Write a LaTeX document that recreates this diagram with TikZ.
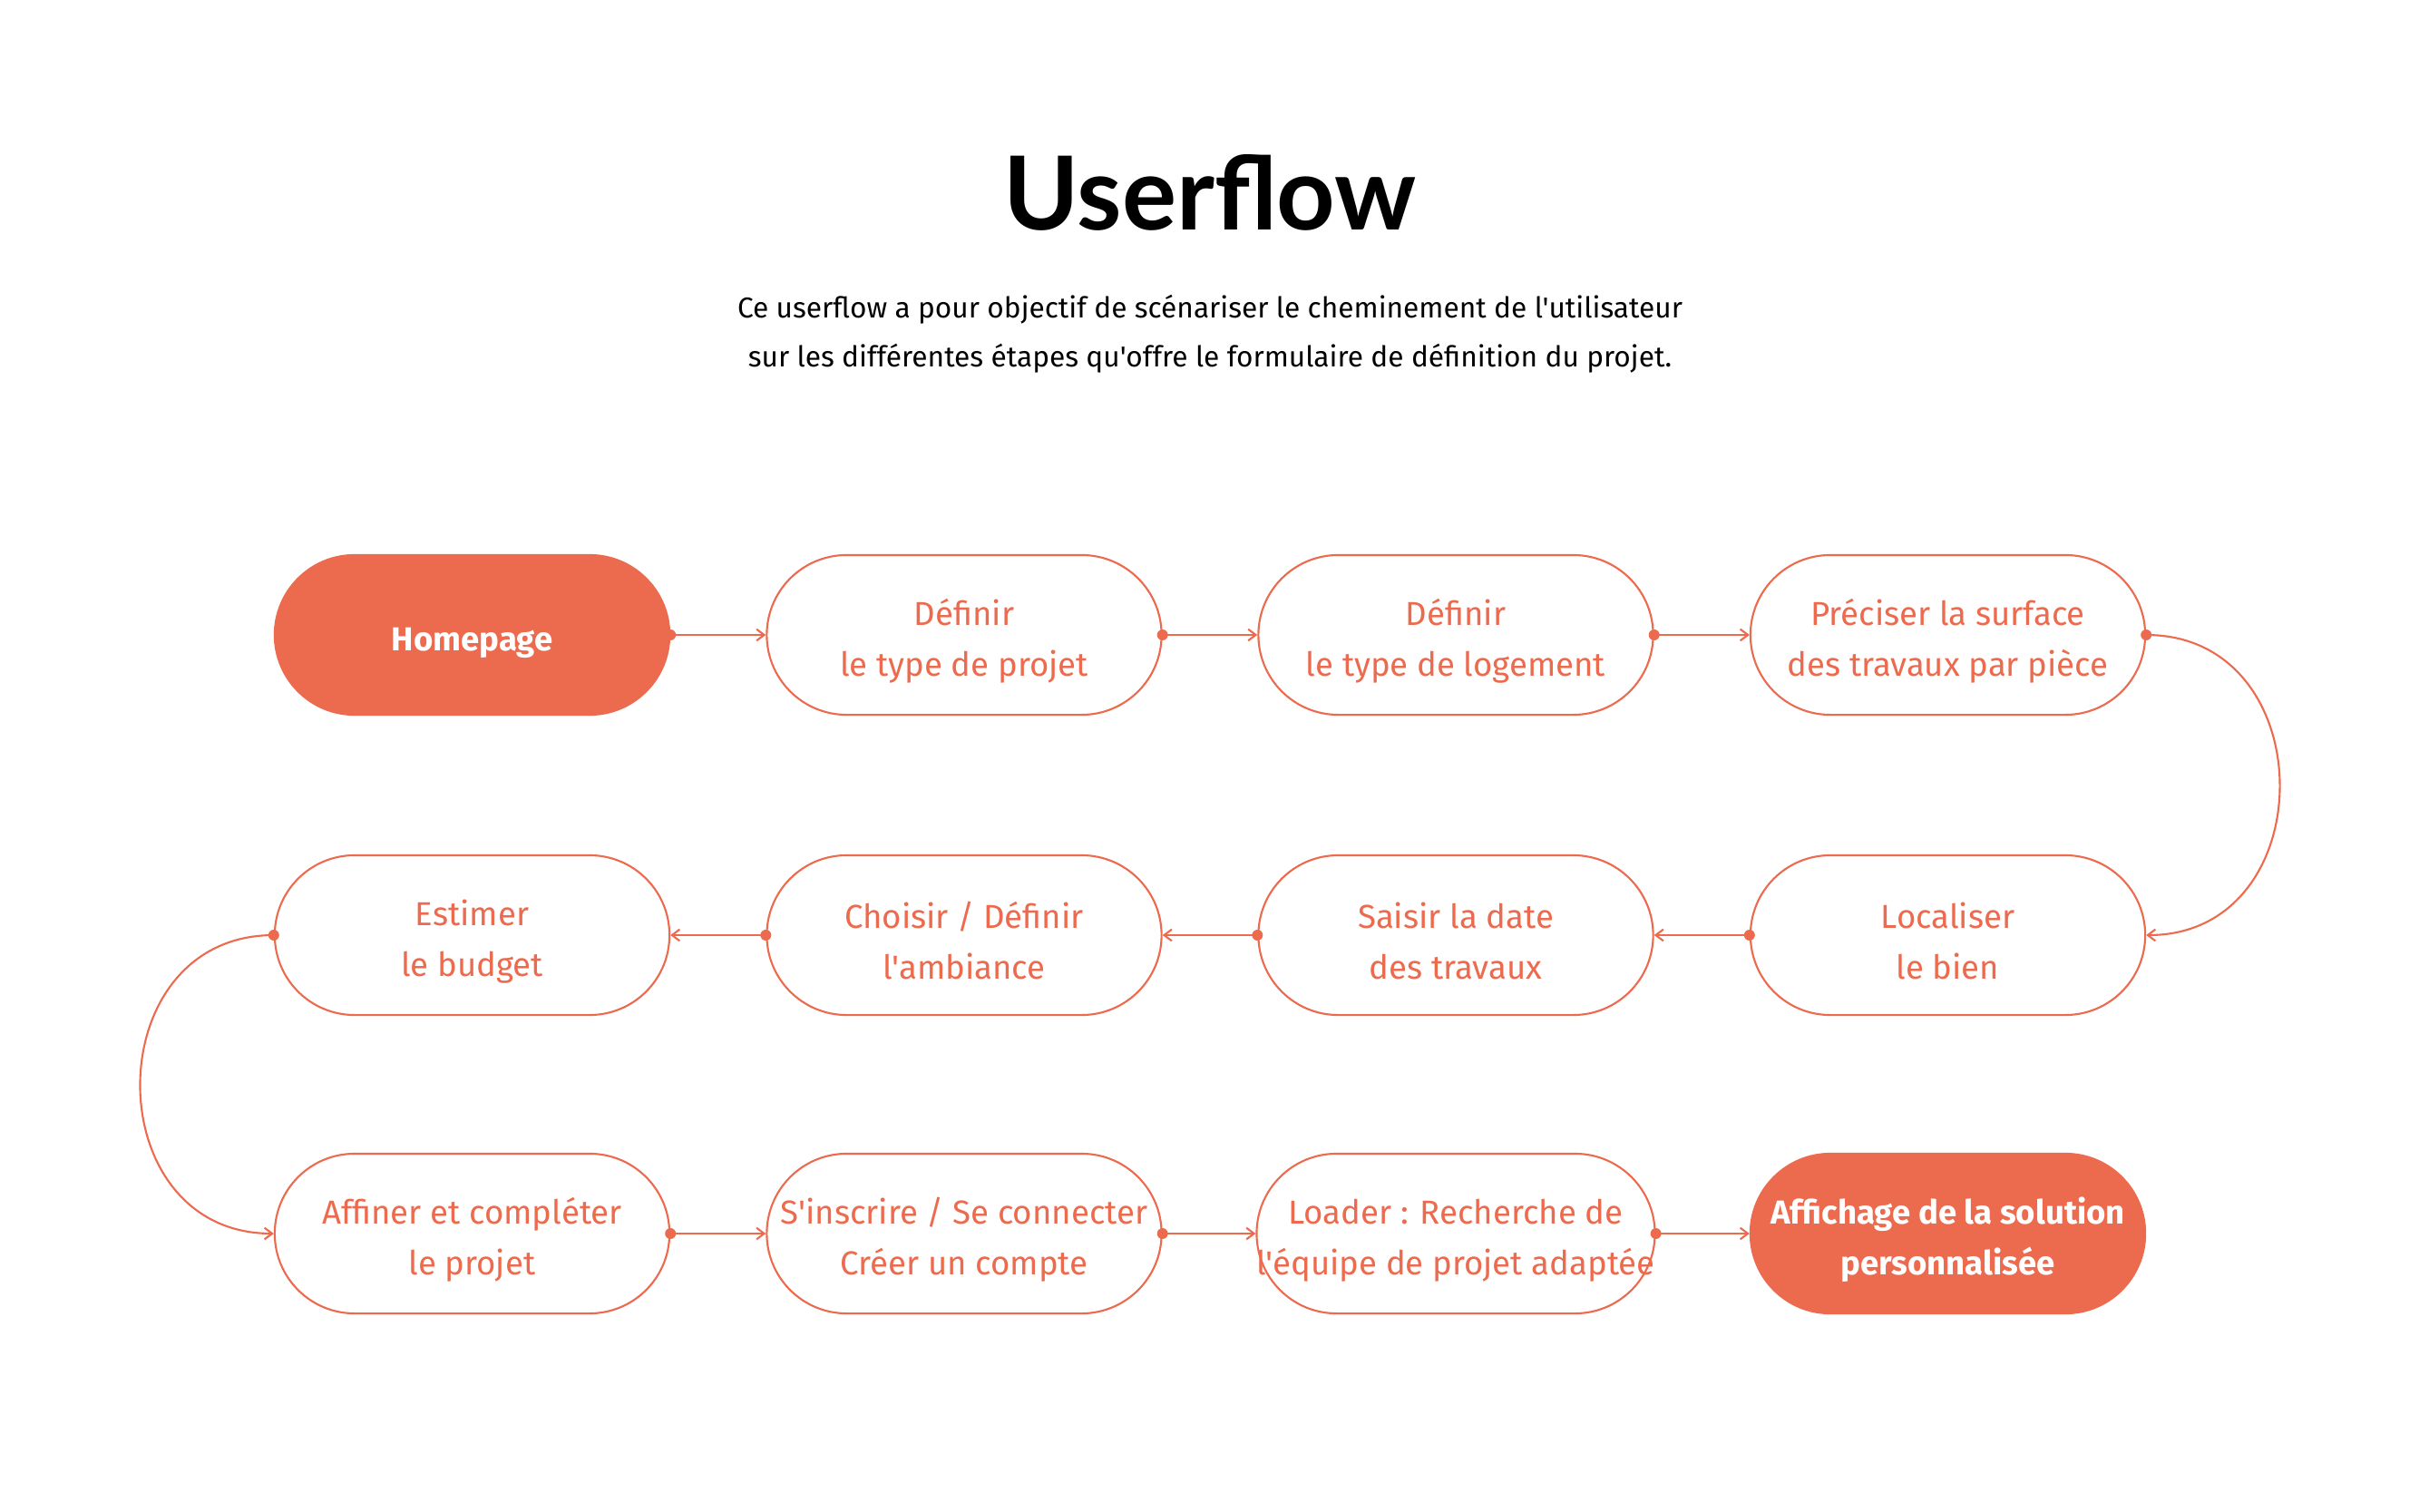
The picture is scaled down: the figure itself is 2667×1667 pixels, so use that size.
\documentclass[tikz,border=0pt]{standalone}
\usepackage{fontspec}
\newfontfamily\bodyfont{Fira Sans}
\newfontfamily\titlefont{Lato}
\usetikzlibrary{arrows.meta}
\definecolor{accent}{HTML}{EC6A4D}
\newcommand\tx{\rule{0pt}{12pt}}
\tikzset{
  stepbox/.style={draw=accent, line width=0.6pt, rectangle, rounded corners=0.88cm,
    minimum width=4.35cm, minimum height=1.76cm, align=center, text=accent,
    font=\bodyfont\fontsize{10.4}{15.9}\selectfont, inner sep=0pt},
  keybox/.style={stepbox, fill=accent, text=white, font=\bodyfont\fontsize{10.4}{15.9}\selectfont\bfseries},
  link/.style={draw=accent, line width=0.6pt, -{Straight Barb[length=2.4pt,width=3.6pt]}},
  dotc/.style={fill=accent}
}
\begin{document}
\begin{tikzpicture}[x=0.01cm,y=-0.01cm]
\path[use as bounding box, fill=white] (0,0) rectangle (2667,1667);
\node[font=\titlefont\fontsize{32}{34}\selectfont\bfseries, inner sep=0pt] (title) at (1334,212) {Userflow};
\node[font=\bodyfont\fontsize{9}{15.3}\selectfont, align=center, inner sep=0pt] (sub) at (1334,368)
  {Ce userflow a pour objectif de scénariser le cheminement de l'utilisateur\\
   sur les différentes étapes qu'offre le formulaire de définition du projet.};
% row 1
\node[keybox] (a1) at (520.5,700) {\tx Homepage};
\node[stepbox] (a2) at (1063,700) {\tx Définir\\le type de projet};
\node[stepbox] (a3) at (1605,700) {\tx Définir\\le type de logement};
\node[stepbox] (a4) at (2147.5,700) {\tx Préciser la surface\\des travaux par pièce};
% row 2
\node[stepbox] (b1) at (2147.5,1031) {\tx Localiser\\le bien};
\node[stepbox] (b2) at (1605,1031) {\tx Saisir la date\\des travaux};
\node[stepbox] (b3) at (1063,1031) {\tx Choisir / Définir\\l'ambiance};
\node[stepbox] (b4) at (520.5,1031) {\tx Estimer\\le budget};
% row 3
\node[stepbox] (c1) at (520.5,1360) {\tx Affiner et compléter\\le projet};
\node[stepbox] (c2) at (1063,1360) {\tx S'inscrire / Se connecter\\Créer un compte};
\node[stepbox] (c3) at (1605,1360) {\tx Loader : Recherche de\\l'équipe de projet adaptée};
\node[keybox] (c4) at (2147.5,1360) {\tx Affichage de la solution\\personnalisée};
% connectors
\foreach \s/\t in {a1/a2,a2/a3,a3/a4,c1/c2,c2/c3,c3/c4}{
  \draw[link] (\s.east) -- (\t.west);
  \fill[dotc] (\s.east) circle[radius=1.7pt];
}
\foreach \s/\t in {b1/b2,b2/b3,b3/b4}{
  \draw[link] (\s.west) -- (\t.east);
  \fill[dotc] (\s.west) circle[radius=1.7pt];
}
\draw[link] (a4.east) .. controls +(196,0) and +(196,0) .. (b1.east);
\fill[dotc] (a4.east) circle[radius=1.7pt];
\draw[link] (b4.west) .. controls +(-196,0) and +(-196,0) .. (c1.west);
\fill[dotc] (b4.west) circle[radius=1.7pt];
\end{tikzpicture}
\end{document}
